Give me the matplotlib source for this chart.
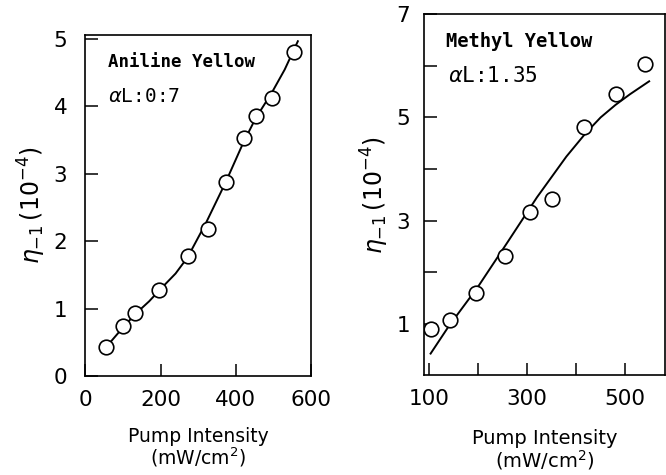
import matplotlib
matplotlib.use('Agg')
import matplotlib.pyplot as plt

# Aniline Yellow (left panel)
aniline_x = [56, 101, 133, 197, 272, 325, 373, 421, 453, 496, 555]
aniline_y = [0.43, 0.75, 0.93, 1.27, 1.78, 2.18, 2.87, 3.52, 3.85, 4.12, 4.80]
aniline_fit_x = [60, 100, 133, 170, 200, 240, 272, 320, 373, 421, 453, 496, 530, 565]
aniline_fit_y = [0.46, 0.72, 0.92, 1.11, 1.29, 1.52, 1.76, 2.26, 2.87, 3.47, 3.82, 4.20, 4.54, 4.96]

# Methyl Yellow (right panel)
methyl_x = [103, 143, 196, 254, 305, 351, 416, 481, 541]
methyl_y = [0.89, 1.08, 1.59, 2.32, 3.16, 3.42, 4.82, 5.46, 6.04]
methyl_fit_x = [103, 140, 200, 260, 320, 380, 420, 450, 480, 510, 549]
methyl_fit_y = [0.42, 0.95, 1.72, 2.58, 3.45, 4.24, 4.70, 5.00, 5.24, 5.45, 5.70]

plt.rcParams['font.family'] = ['DejaVu Sans']

fig = plt.figure(figsize=(6.66, 4.75), dpi=100)
ax1 = fig.add_axes([0.128, 0.208, 0.339, 0.718])
ax2 = fig.add_axes([0.637, 0.210, 0.362, 0.760])


def style_axes(ax):
    for s in ax.spines.values():
        s.set_linewidth(1.2)
    ax.tick_params(direction='in', length=9, width=1.1, labelsize=15.5,
                   pad=10, colors='black')


def draw_panel(ax, x, y, fx, fy):
    ax.plot(fx, fy, color='black', lw=1.4, zorder=2)
    ax.plot(x, y, 'o', ms=10.5, mfc='white', mec='black', mew=1.2, zorder=3)


draw_panel(ax1, aniline_x, aniline_y, aniline_fit_x, aniline_fit_y)
ax1.set_xlim(0, 600)
ax1.set_ylim(0, 5.05)
ax1.set_xticks([0, 200, 400, 600])
ax1.set_yticks([0, 1, 2, 3, 4, 5])
style_axes(ax1)
ax1.tick_params(axis='y', pad=13)
ax1.set_xlabel('Pump Intensity\n(mW/cm$^2$)', fontsize=13.5, labelpad=12,
               linespacing=1.0)
ax1.set_ylabel(r'$\eta_{-1}\,(10^{-4})$', fontsize=17, labelpad=4)
ax1.text(0.10, 0.92, 'Aniline Yellow', transform=ax1.transAxes,
         fontsize=12.5, fontweight='bold', family='DejaVu Sans Mono', va='center')
ax1.text(0.10, 0.82, r'$\alpha$L:0:7', transform=ax1.transAxes,
         fontsize=14, family='DejaVu Sans Mono', va='center')

draw_panel(ax2, methyl_x, methyl_y, methyl_fit_x, methyl_fit_y)
ax2.set_xlim(90, 582)
ax2.set_ylim(0, 7)
ax2.set_xticks([100, 200, 300, 400, 500])
ax2.set_xticklabels(['100', '', '300', '', '500'])
ax2.set_yticks([1, 2, 3, 4, 5, 6, 7])
ax2.set_yticklabels(['1', '', '3', '', '5', '', '7'])
style_axes(ax2)
ax2.set_xlabel('Pump Intensity\n(mW/cm$^2$)', fontsize=14, labelpad=14,
               linespacing=1.05)
ax2.set_ylabel(r'$\eta_{-1}\,(10^{-4})$', fontsize=17, labelpad=4)
ax2.text(0.09, 0.925, 'Methyl Yellow', transform=ax2.transAxes,
         fontsize=13.5, fontweight='bold', family='DejaVu Sans Mono', va='center')
ax2.text(0.10, 0.83, r'$\alpha$L:1.35', transform=ax2.transAxes,
         fontsize=15, family='DejaVu Sans Mono', va='center')

fig.savefig('out.png', dpi=100)
